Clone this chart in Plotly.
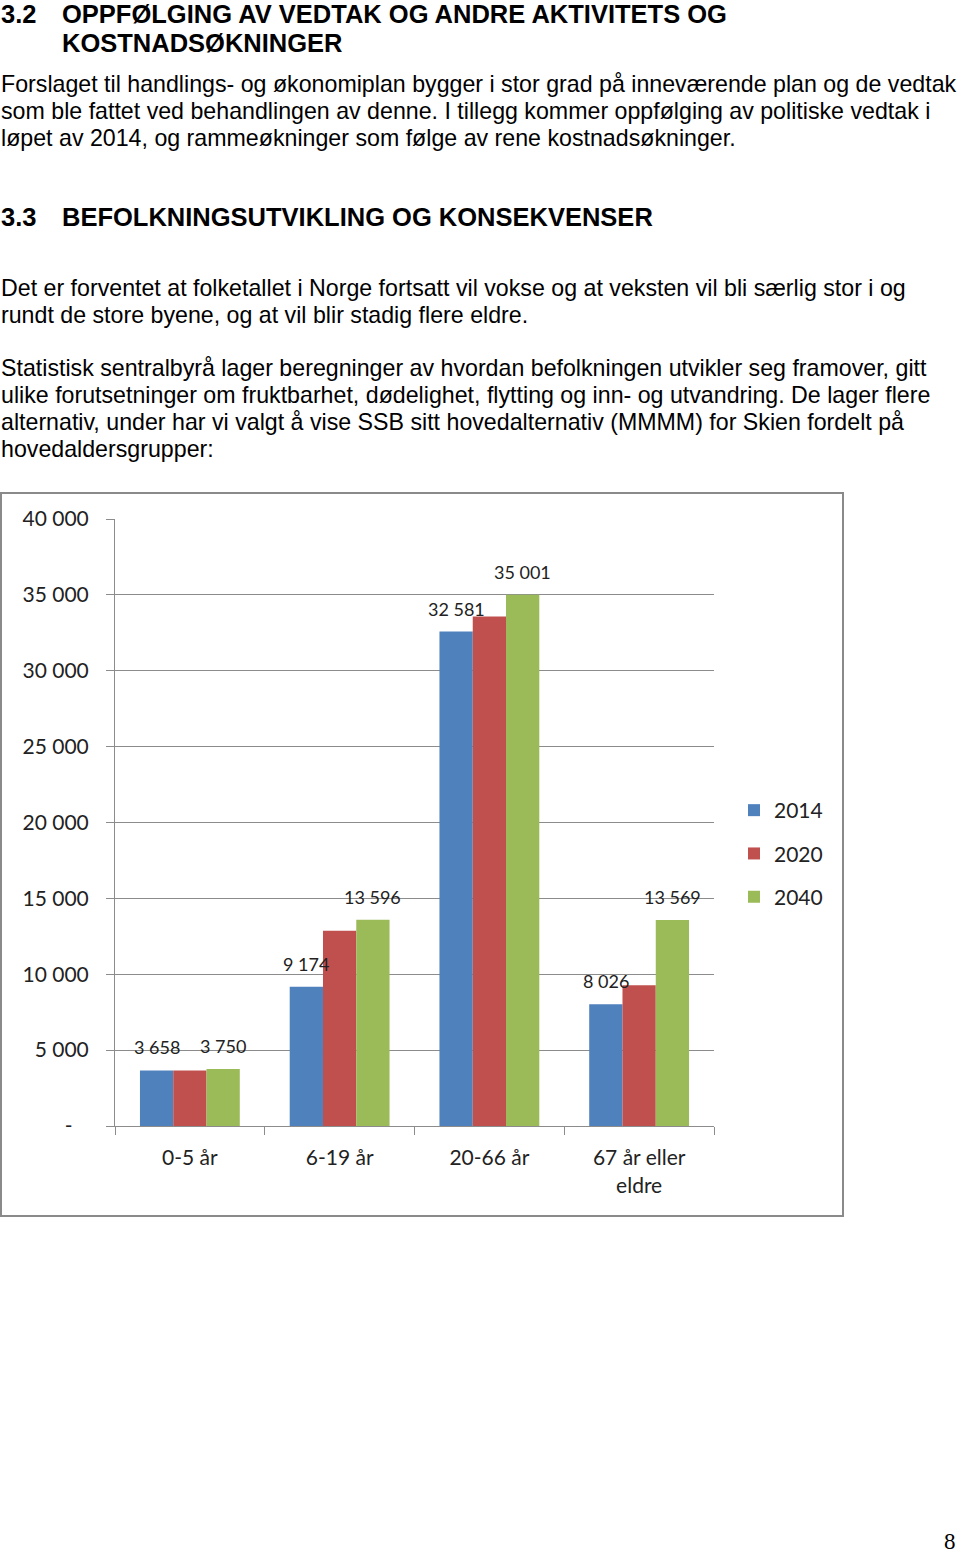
import plotly.graph_objects as go

# ---- data ----
categories = ["0-5 år", "6-19 år", "20-66 år", "67 år eller<br>eldre"]
years = ["2014", "2020", "2040"]
values_2014 = [3658, 9174, 32581, 8026]
values_2020 = [3660, 12870, 33570, 9270]
values_2040 = [3750, 13596, 35001, 13569]
colors = ["#4F81BD", "#C0504D", "#9BBB59"]
y_ticks = [0, 5000, 10000, 15000, 20000, 25000, 30000, 35000, 40000]
y_ticktext = ["-\u00a0\u00a0\u00a0"] + [f"{v:,}".replace(",", " ") for v in y_ticks[1:]]

heading_lines = [
    ("3.2", "OPPFØLGING AV VEDTAK OG ANDRE AKTIVITETS OG", 14),
    ("", "KOSTNADSØKNINGER", 43),
    ("3.3", "BEFOLKNINGSUTVIKLING OG KONSEKVENSER", 217),
]
body_lines = [
    ("Forslaget til handlings- og økonomiplan bygger i stor grad på inneværende plan og de vedtak", 84),
    ("som ble fattet ved behandlingen av denne. I tillegg kommer oppfølging av politiske vedtak i", 111),
    ("løpet av 2014, og rammeøkninger som følge av rene kostnadsøkninger.", 138),
    ("Det er forventet at folketallet i Norge fortsatt vil vokse og at veksten vil bli særlig stor i og", 288),
    ("rundt de store byene, og at vil blir stadig flere eldre.", 315),
    ("Statistisk sentralbyrå lager beregninger av hvordan befolkningen utvikler seg framover, gitt", 368),
    ("ulike forutsetninger om fruktbarhet, dødelighet, flytting og inn- og utvandring. De lager flere", 395),
    ("alternativ, under har vi valgt å vise SSB sitt hovedalternativ (MMMM) for Skien fordelt på", 422),
    ("hovedaldersgrupper:", 449),
]

W, H = 960, 1554
def px(x):
    return x / W
def py(y):
    return 1 - y / H

fig = go.Figure()
series = [values_2014, values_2020, values_2040]
for name, vals, col in zip(years, series, colors):
    fig.add_trace(go.Bar(name=name, x=categories, y=vals, marker_color=col,
                         marker_line_width=0, legendgroup=name))

# data labels for 2014 and 2040
gridc = "#8c8c8c"
chart_font = "Lato, Open Sans, sans-serif"
bar_w = (714 - 115) / 4 * (2 / 3) / 3
for vals, shift in [(values_2014, -bar_w), (values_2040, bar_w)]:
    for c, v in zip(categories, vals):
        fig.add_annotation(x=c, y=v, xref="x", yref="y", xshift=shift, yshift=10,
                           yanchor="bottom", showarrow=False,
                           text=f"{v:,}".replace(",", " "),
                           font=dict(family=chart_font, size=18, color="#222"))

# page text
for num, txt, y in heading_lines:
    if num:
        fig.add_annotation(x=px(-1), y=py(y), xref="paper", yref="paper", xanchor="left",
                           yanchor="middle", showarrow=False, text=f"<b>{num}</b>",
                           font=dict(family="Liberation Sans, Arial", size=25.5, color="#000"))
    fig.add_annotation(x=px(60), y=py(y), xref="paper", yref="paper", xanchor="left",
                       yanchor="middle", showarrow=False, text=f"<b>{txt}</b>",
                       font=dict(family="Liberation Sans, Arial", size=25.5, color="#000"))
for txt, y in body_lines:
    fig.add_annotation(x=px(-1), y=py(y), xref="paper", yref="paper", xanchor="left",
                       yanchor="middle", showarrow=False, text=txt,
                       font=dict(family="Liberation Sans, Arial", size=23.2, color="#000"))
fig.add_annotation(x=px(958), y=py(1541), xref="paper", yref="paper", xanchor="right",
                   yanchor="middle", showarrow=False, text="8",
                   font=dict(family="Liberation Serif, Times New Roman", size=23, color="#000"))

# chart border
fig.add_shape(type="rect", xref="paper", yref="paper",
              x0=px(1), x1=px(843), y0=py(1216), y1=py(493),
              line=dict(color="#8a8a8a", width=2), fillcolor="rgba(0,0,0,0)")

fig.update_layout(
    width=W, height=H, autosize=False,
    margin=dict(l=0, r=0, t=0, b=0, pad=0),
    paper_bgcolor="white", plot_bgcolor="white",
    barmode="group", bargap=1/3, bargroupgap=0,
    font=dict(family=chart_font, size=21, color="#222"),
    legend=dict(x=px(734), y=py(790), xanchor="left", yanchor="top",
                font=dict(family=chart_font, size=21, color="#222"),
                tracegroupgap=13, itemwidth=30, bgcolor="rgba(0,0,0,0)"),
    xaxis=dict(domain=[px(115), px(714)], showline=True, linecolor=gridc, linewidth=1,
               ticks="outside", tickson="boundaries", ticklen=8, tickcolor=gridc,
               showgrid=False, automargin=False,
               tickfont=dict(family=chart_font, size=21, color="#222"),
               ticklabelstandoff=13),
    yaxis=dict(domain=[py(1126), py(519)], range=[0, 40000], tickvals=y_ticks,
               ticktext=y_ticktext, showline=True, linecolor=gridc, linewidth=1,
               ticks="outside", ticklen=8, tickcolor=gridc, showgrid=True,
               gridcolor=gridc, gridwidth=1, zeroline=False, automargin=False,
               tickfont=dict(family=chart_font, size=21, color="#222"),
               ticklabelstandoff=13),
)

fig.write_html("out.html", config={"displayModeBar": False},
               post_script="document.body.style.margin='0';document.body.style.padding='0';")
